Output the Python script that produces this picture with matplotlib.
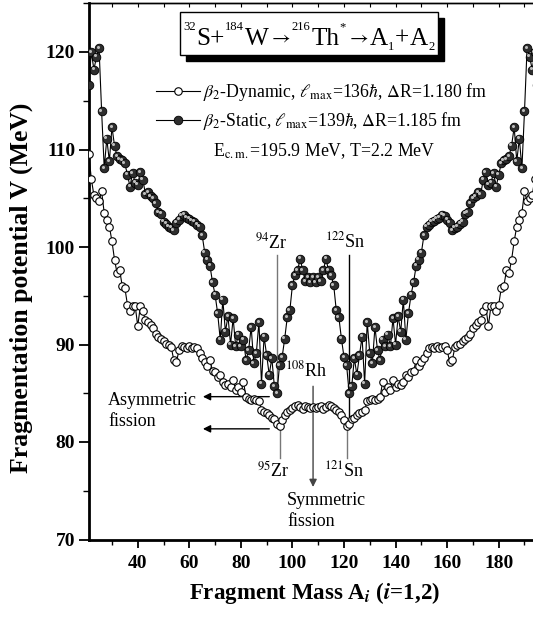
import matplotlib
matplotlib.use("Agg")
import matplotlib.pyplot as plt
from matplotlib.patches import Rectangle
from matplotlib.transforms import offset_copy, IdentityTransform
from matplotlib.ticker import MultipleLocator

# ---------------- data ----------------
masses = list(range(21, 196))

v_dynamic = [
    109.5, 107.0, 105.3, 105.0, 104.7, 105.7, 103.5, 102.8, 102.1, 100.6,   # 21-30
    98.7, 97.3, 97.6, 96.0, 95.8, 94.1, 93.4, 93.9, 94.0, 91.9,            # 31-40
    93.9, 93.4, 92.5, 92.3, 92.0, 91.7, 91.1, 90.8, 90.6, 90.4,            # 41-50
    90.1, 89.9, 89.7, 88.4, 88.2, 89.4, 89.8, 89.7, 89.6, 89.8,            # 51-60
    89.6, 89.7, 89.6, 89.1, 88.6, 88.2, 87.8, 88.4, 87.3, 87.2,            # 61-70
    86.7, 86.9, 86.2, 85.8, 86.0, 85.6, 86.4, 85.3, 85.6, 85.1,            # 71-80
    86.2, 84.6, 84.4, 84.3, 84.4, 84.3, 84.2, 83.3, 83.1, 83.0,            # 81-90
    82.8, 82.5, 82.4, 81.8, 81.6, 82.3, 82.8, 83.1, 83.3, 83.5,            # 91-100
    83.7, 83.8, 83.6, 83.4, 83.7, 83.6, 83.5, 83.6, 83.5, 83.6,            # 101-110
    83.7, 83.4, 83.6, 83.8, 83.7, 83.5, 83.3, 83.1, 82.8, 82.3,            # 111-120
    81.6, 81.8, 82.4, 82.5, 82.8, 83.0, 83.1, 83.3, 84.2, 84.3,            # 121-130
    84.4, 84.3, 84.4, 84.6, 86.2, 85.1, 85.6, 85.3, 86.4, 85.6,            # 131-140
    86.0, 85.8, 86.2, 86.9, 86.7, 87.2, 87.3, 88.4, 87.8, 88.2,            # 141-150
    88.6, 89.1, 89.6, 89.7, 89.6, 89.8, 89.6, 89.7, 89.8, 89.4,            # 151-160
    88.2, 88.4, 89.7, 89.9, 90.1, 90.4, 90.6, 90.8, 91.1, 91.7,            # 161-170
    92.0, 92.3, 92.5, 93.4, 93.9, 91.9, 94.0, 93.9, 93.4, 94.1,            # 171-180
    95.8, 96.0, 97.6, 97.3, 98.7, 100.6, 102.1, 102.8, 103.5, 105.7,       # 181-190
    104.7, 105.0, 105.3, 107.0, 109.5,                                     # 191-195
]

v_static = [
    116.6, 120.0, 118.2, 119.5, 120.4, 113.9, 108.1, 111.1, 108.8, 112.3,  # 21-30
    110.4, 109.3, 109.0, 108.9, 108.6, 107.4, 106.2, 107.6, 106.6, 106.4,  # 31-40
    107.7, 106.9, 105.4, 105.6, 105.2, 105.0, 104.5, 103.6, 103.4, 102.6,  # 41-50
    102.4, 102.1, 102.0, 101.7, 102.5, 102.8, 103.2, 103.3, 103.0, 102.9,  # 51-60
    102.7, 102.6, 102.3, 102.1, 101.2, 99.4, 98.7, 98.1, 96.4, 95.1,       # 61-70
    93.2, 90.5, 94.6, 91.3, 92.9, 90.0, 92.7, 89.8, 91.0, 89.8,            # 71-80
    90.5, 88.4, 89.4, 91.8, 88.1, 89.1, 92.3, 86.0, 90.8, 88.9,            # 81-90
    86.9, 88.6, 85.7, 85.0, 87.9, 88.7, 90.6, 92.8, 93.5, 96.1,            # 91-100
    97.1, 97.6, 98.8, 97.6, 96.5, 96.9, 96.4, 96.9, 96.4, 96.9,            # 101-110
    96.5, 97.6, 98.8, 97.6, 97.1, 96.1, 93.5, 92.8, 90.6, 88.7,            # 111-120
    87.9, 85.0, 85.7, 88.6, 86.9, 88.9, 90.8, 86.0, 92.3, 89.1,            # 121-130
    88.1, 91.8, 89.4, 88.4, 90.5, 89.8, 91.0, 89.8, 92.7, 90.0,            # 131-140
    92.9, 91.3, 94.6, 90.5, 93.2, 95.1, 96.4, 98.1, 98.7, 99.4,            # 141-150
    101.2, 102.1, 102.3, 102.6, 102.7, 102.9, 103.0, 103.3, 103.2, 102.8,  # 151-160
    102.5, 101.7, 102.0, 102.1, 102.4, 102.6, 103.4, 103.6, 104.5, 105.0,  # 161-170
    105.2, 105.6, 105.4, 106.9, 107.7, 106.4, 106.6, 107.6, 106.2, 107.4,  # 171-180
    108.6, 108.9, 109.0, 109.3, 110.4, 112.3, 108.8, 111.1, 108.1, 113.9,  # 181-190
    120.4, 119.5, 118.2, 120.0, 116.6,                                     # 191-195
]

x_ticks = [40, 60, 80, 100, 120, 140, 160, 180]
y_ticks = [70, 80, 90, 100, 110, 120]

label_dyn = r"$\beta_2$-Dynamic, $\ell_{\rm max}$=136$\hbar$, $\Delta$R=1.180 fm"
label_sta = r"$\beta_2$-Static, $\ell_{\rm max}$=139$\hbar$, $\Delta$R=1.185 fm"
cond_txt = r"E$_{\rm c.m.}$=195.9 MeV, T=2.2 MeV"
# reaction title pieces: (text, role)
title_pieces = [("32", "sup"), ("S+", "main"), ("184", "sup"), ("W", "main"),
                (r"$\rightarrow$", "arrow"), ("216", "sup"), ("Th", "main"), ("*", "sup"),
                (r"$\rightarrow$", "arrow"), ("A", "main"), ("1", "sub"), ("+", "main"),
                ("A", "main"), ("2", "sub")]

# ---------------- style ----------------
plt.rcParams["font.family"] = ["Liberation Serif", "DejaVu Serif"]
plt.rcParams["mathtext.fontset"] = "stix"

W_PX, H_PX = 533, 618
fig = plt.figure(figsize=(5.33, 6.18), dpi=100)
ax = fig.add_axes([89 / W_PX, 78.5 / H_PX, 444 / W_PX, 536.25 / H_PX])

ln_dyn, = ax.plot(masses, v_dynamic, "-", color="black", lw=0.8, marker="o",
                  ms=5.4, mfc="white", mec="black", mew=0.8, zorder=3)
ln_sta, = ax.plot(masses, v_static, "-", color="black", lw=0.8, marker="o",
                  ms=6.2, mfc="#2e2e2e", mec="black", mew=0.6, zorder=4)
ax.plot(masses, v_static, ls="none", marker="o", ms=2.2, mfc="#bdbdbd", mec="none",
        transform=offset_copy(ax.transData, fig=fig, x=-1.0, y=1.0, units="points"),
        zorder=5)

ax.set_xlim(21.1, 193.3)
ax.set_ylim(70, 125)

ax.set_xticks(x_ticks)
ax.set_xticklabels([str(t) for t in x_ticks], fontweight="bold", fontsize=14)
ax.set_yticks(y_ticks)
ax.set_yticklabels([str(t) for t in y_ticks], fontweight="bold", fontsize=14)
ax.xaxis.set_minor_locator(MultipleLocator(10))
ax.yaxis.set_minor_locator(MultipleLocator(5))
ax.tick_params(axis="x", which="major", direction="out", length=6, width=1.3, pad=5)
ax.tick_params(axis="x", which="minor", direction="out", length=3.5, width=1.0)
ax.tick_params(axis="y", which="major", direction="out", length=7, width=1.3, pad=3)
ax.tick_params(axis="y", which="minor", direction="out", length=4, width=1.0)

sec = ax.secondary_xaxis("top")
sec.xaxis.set_major_locator(MultipleLocator(10))
sec.tick_params(direction="in", length=3, width=0.8, labeltop=False)
sec.spines["top"].set_linewidth(1.0)

ax.spines["left"].set_linewidth(2.0)
ax.spines["bottom"].set_linewidth(2.0)
ax.spines["top"].set_linewidth(1.0)
ax.spines["right"].set_visible(False)

ax.set_xlabel(r"Fragment Mass A$_{\mathbfit{i}}$ ($\mathbfit{i}$=1,2)", fontsize=16.5,
              fontweight="bold")
ax.xaxis.set_label_coords(0.507, -0.075)
ax.set_ylabel("Fragmentation potential V (MeV)", fontsize=18.5, fontweight="bold")
ax.yaxis.set_label_coords(-0.126, 0.47)

# legend
leg = ax.legend([ln_dyn, ln_sta], [label_dyn, label_sta], loc="upper left",
                bbox_to_anchor=(156 / W_PX, 1 - 81 / H_PX), bbox_transform=fig.transFigure,
                frameon=False, fontsize=12.8, handlelength=2.45, handletextpad=0.2,
                labelspacing=0.42, borderpad=0, borderaxespad=0, numpoints=1)

fig.text(213 / W_PX, 1 - 151 / H_PX, cond_txt, ha="left", va="center", fontsize=12.8)

# ---- title box with shadow ----
box_l, box_t, box_w, box_h = 180, 12, 258, 43
shadow = Rectangle(((box_l + 6) / W_PX, 1 - (box_t + box_h + 6) / H_PX),
                   box_w / W_PX, box_h / H_PX, transform=fig.transFigure,
                   facecolor="black", edgecolor="black", zorder=10)
frame = Rectangle((box_l / W_PX, 1 - (box_t + box_h) / H_PX), box_w / W_PX, box_h / H_PX,
                  transform=fig.transFigure, facecolor="white", edgecolor="black",
                  lw=1.0, zorder=11)
fig.add_artist(shadow)
fig.add_artist(frame)

role_size = {"main": 21, "sup": 10.5, "sub": 10.5, "arrow": 17}
role_rise = {"main": 0, "sup": 15, "sub": -5, "arrow": 2}
renderer = fig.canvas.get_renderer()
target_w = 244.0
title_texts = []
for s, role in title_pieces:
    tt = fig.text(0, 0, s, fontsize=role_size[role], ha="left", va="baseline",
                  transform=IdentityTransform(), zorder=12)
    title_texts.append(tt)
widths = [tt.get_window_extent(renderer).width for tt in title_texts]
scale = min(1.0, target_w / sum(widths))
if scale < 1.0:
    for tt, (s, role) in zip(title_texts, title_pieces):
        tt.set_fontsize(role_size[role] * scale)
    widths = [tt.get_window_extent(renderer).width for tt in title_texts]
gap = 0.5
total = sum(widths) + gap * (len(widths) - 1)
x = box_l + box_w / 2 - total / 2
base_y = H_PX - 45
for tt, w, (s, role) in zip(title_texts, widths, title_pieces):
    tt.set_position((x, base_y + role_rise[role]))
    x += w + gap

# ---- annotations ----
ann_fs = 13
ax.plot([94, 94], [99.2, 85.0], color="#777777", lw=1.0, zorder=2)
ax.text(91.7, 100.5, r"$^{94}$Zr", ha="center", va="center", fontsize=ann_fs)
ax.plot([122, 122], [99.2, 82.0], color="black", lw=1.0, zorder=2)
ax.text(120.4, 100.6, r"$^{122}$Sn", ha="center", va="center", fontsize=ann_fs)

ax.text(105.5, 87.3, r"$^{108}$Rh", ha="center", va="center", fontsize=ann_fs, zorder=6)
ax.annotate("", xy=(108, 75.1), xytext=(108, 86.0),
            arrowprops=dict(arrowstyle="-|>", color="#444444", lw=1.0, mutation_scale=11),
            zorder=2)
ax.text(97.9, 72.9, "Symmetric\nfission", ha="left", va="center", fontsize=ann_fs,
        linespacing=1.3)

ax.text(28.5, 83.2, "Asymmetric\nfission", ha="left", va="center", fontsize=ann_fs,
        linespacing=1.3)
ax.annotate("", xy=(64.2, 84.65), xytext=(92.1, 84.65),
            arrowprops=dict(arrowstyle="-|>", color="black", lw=1.0, mutation_scale=11),
            zorder=2)
ax.annotate("", xy=(64.2, 81.35), xytext=(92.1, 81.35),
            arrowprops=dict(arrowstyle="-|>", color="black", lw=1.0, mutation_scale=11),
            zorder=2)

ax.plot([95, 95], [81.2, 78.4], color="#777777", lw=1.0, zorder=2)
ax.text(92.5, 77.0, r"$^{95}$Zr", ha="center", va="center", fontsize=ann_fs)
ax.plot([121, 121], [81.2, 78.4], color="#777777", lw=1.0, zorder=2)
ax.text(120.0, 77.1, r"$^{121}$Sn", ha="center", va="center", fontsize=ann_fs)

fig.savefig("out.png", dpi=100)
